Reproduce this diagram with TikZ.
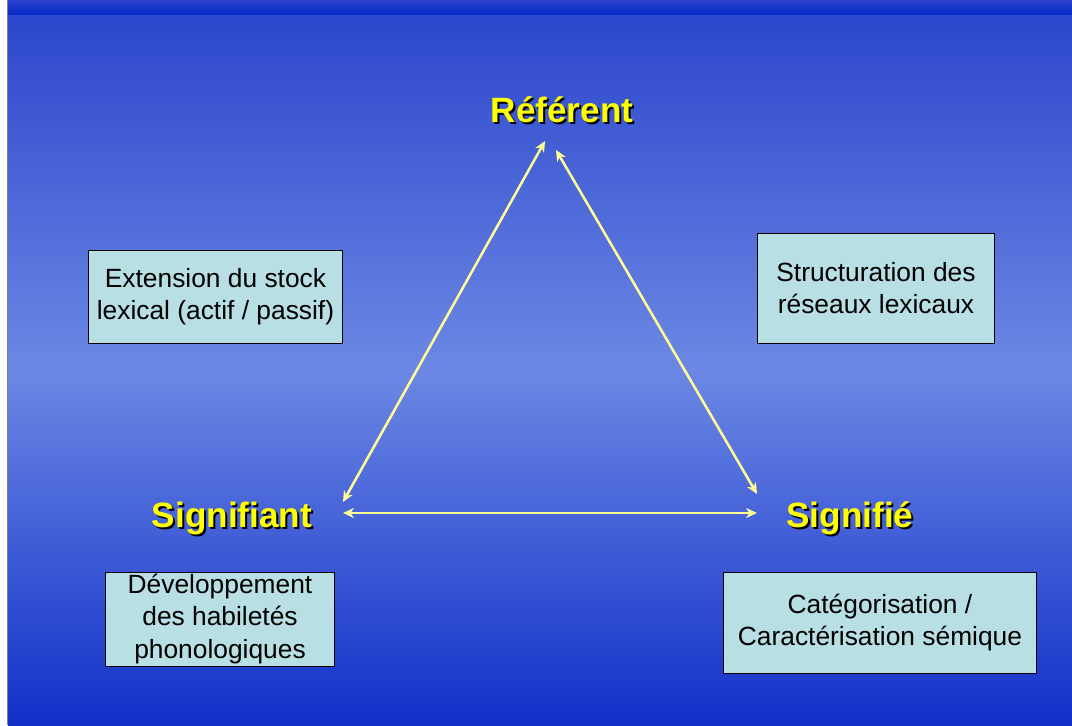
\documentclass[tikz,border=0pt]{standalone}
\usepackage{fontspec}
\setmainfont{Liberation Sans}
\usepackage{tikz}
\usetikzlibrary{arrows.meta}

\definecolor{bgtop}{RGB}{44,70,204}
\definecolor{bgmid}{RGB}{108,136,228}
\definecolor{bgbot}{RGB}{18,48,200}
\pgfdeclareverticalshading{slidebg}{100bp}{color(0bp)=(bgbot); color(25bp)=(bgbot);
  color(50bp)=(bgmid); color(75bp)=(bgtop); color(100bp)=(bgtop)}

\begin{document}
\begin{tikzpicture}[x=0.02cm,y=-0.02cm,
  pole/.style={inner sep=0pt, anchor=base, font=\fontsize{20}{24}\selectfont\bfseries},
  notebox/.style={draw=black, line width=0.02cm, fill=boxfill, inner sep=0pt,
    align=center, font=\fontsize{15}{18.5}\selectfont},
  link/.style={draw=linkyellow, line width=0.05cm,
    {Stealth[length=0.22cm,width=0.2cm]}-{Stealth[length=0.22cm,width=0.2cm]}}]
% \clip (0,0) rectangle (1072,725);
{

% Changing colors
\definecolor{stripa}{RGB}{44,66,204}%
\definecolor{stripb}{RGB}{6,42,200}%
\definecolor{boxfill}{RGB}{184,224,228}%
\definecolor{linkyellow}{RGB}{255,255,150}%
\definecolor{poleyellow}{RGB}{255,255,0}%

% Drawing background
\useasboundingbox (0,0) rectangle (1072,725);
\fill [white] (0,0) rectangle (8,725);%
\shade [shading=slidebg] (8,14) rectangle (1072,725);%
\shade [top color=stripa, bottom color=stripb] (8,0) rectangle (1072,14);%
\draw [gray, line width=0.02cm] (7.5,0) -- (7.5,725);%

% Marking poles (shadow first)
\node [pole, black] (referent-s) at (564,124) {Référent};%
\node [pole, poleyellow] (referent) at (562,122) {Référent};%
\node [pole, black] (signifiant-s) at (234,529) {Signifiant};%
\node [pole, poleyellow] (signifiant) at (232,527) {Signifiant};%
\node [pole, black] (signifie-s) at (852,529) {Signifié};%
\node [pole, poleyellow] (signifie) at (850,527) {Signifié};%

% Marking arrow ends
\coordinate (ref-sa) at (545,141);%
\coordinate (ref-se) at (556,150);%
\coordinate (sa-ref) at (343,502);%
\coordinate (sa-se) at (343,513);%
\coordinate (se-ref) at (757,494);%
\coordinate (se-sa) at (757,513);%

% Drawing arrows
\draw [link] (sa-ref) -- (ref-sa);%
\draw [link] (ref-se) -- (se-ref);%
\draw [link] (sa-se) -- (se-sa);%

% Drawing boxes
\node [notebox, minimum width=5.1cm, minimum height=1.86cm] (stock) at (215.5,296.5)
  {Extension du stock\\lexical (actif / passif)};%
\node [notebox, minimum width=4.76cm, minimum height=2.2cm] (reseaux) at (876,288)
  {Structuration des\\réseaux lexicaux};%
\node [notebox, minimum width=4.6cm, minimum height=1.88cm] (phono) at (220,619)
  {Développement\\des habiletés\\phonologiques};%
\node [notebox, minimum width=6.28cm, minimum height=2.02cm] (semique) at (880,622.5)
  {Catégorisation /\\Caractérisation sémique};%
}
\end{tikzpicture}
\end{document}
